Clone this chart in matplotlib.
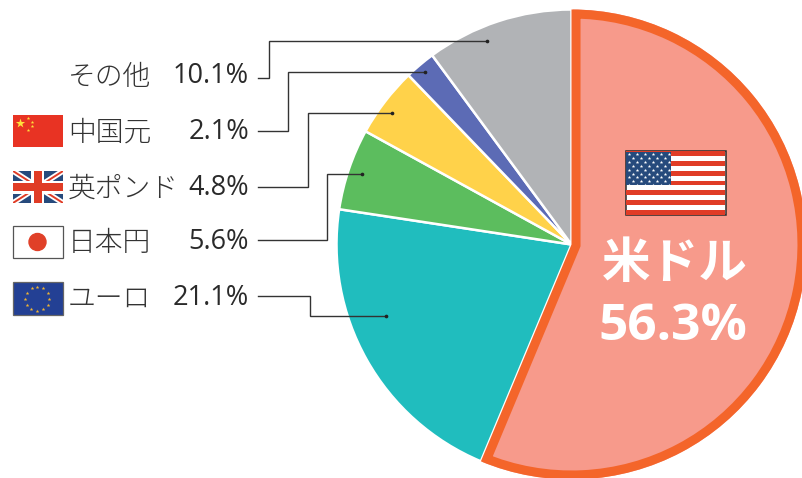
import matplotlib
matplotlib.use("Agg")
import matplotlib.pyplot as plt
from matplotlib.patches import Rectangle, Circle, Wedge
import numpy as np

W, H = 803, 478

# pie, clockwise from the top
slice_names = ["米ドル", "ユーロ", "日本円", "英ポンド", "中国元", "その他"]
slice_values = [56.3, 21.1, 5.6, 4.8, 2.1, 10.1]
slice_colors = ["#F79A8B", "#20BDBE", "#5CBD5E", "#FFD24A", "#5C6BB5", "#B1B3B6"]

# legend, top to bottom
legend_names = ["その他", "中国元", "英ポンド", "日本円", "ユーロ"]
legend_values = [10.1, 2.1, 4.8, 5.6, 21.1]
legend_y = [77, 133, 189, 243, 299]

# leader lines in picture pixels (same order as the legend)
leaders = [
    [(258, 78), (269, 78), (269, 41), (487, 41)],
    [(258, 131), (288, 131), (288, 72), (425, 72)],
    [(258, 187), (308, 187), (308, 113), (392, 113)],
    [(258, 240), (327, 240), (327, 174), (362, 174)],
    [(258, 296), (310, 296), (310, 316), (386, 316)],
]

JP = ["Noto Sans CJK JP", "DejaVu Sans"]
NUM = ["Open Sans", "DejaVu Sans"]
TEXT = "#333333"
RED = "#E03C26"
NAVY = "#264A7C"


def yy(py):
    return H - py


def rect(ax, x0, y0, x1, y1, color, z=5, **kw):
    ax.add_patch(Rectangle((x0, yy(y1)), x1 - x0, y1 - y0, facecolor=color, edgecolor="none", zorder=z, **kw))


def flag_cn(ax, x0, y0, x1, y1):
    rect(ax, x0, y0, x1, y1, "#E83323")
    ax.scatter([20.5], [yy(123)], marker="*", s=50, color="#FFE13C", linewidths=0, zorder=6)
    ax.scatter([28, 32, 32, 28], [yy(118), yy(122), yy(126), yy(130)], marker="*", s=7,
               color="#FFE13C", linewidths=0, zorder=6)


def flag_uk(ax, x0, y0, x1, y1, clip):
    rect(ax, x0, y0, x1, y1, NAVY)
    cx, cy = (x0 + x1) / 2, (y0 + y1) / 2
    for a, b in [((x0, y0), (x1, y1)), ((x0, y1), (x1, y0))]:
        ln, = ax.plot([a[0], b[0]], [yy(a[1]), yy(b[1])], color="white", lw=4, zorder=6, solid_capstyle="butt")
        ln.set_clip_path(clip)
        ln, = ax.plot([a[0], b[0]], [yy(a[1]), yy(b[1])], color=RED, lw=1.4, zorder=7, solid_capstyle="butt")
        ln.set_clip_path(clip)
    rect(ax, x0, cy - 6.5, x1, cy + 6.5, "white", z=8)
    rect(ax, cx - 6.5, y0, cx + 6.5, y1, "white", z=8)
    rect(ax, x0, cy - 4, x1, cy + 4, RED, z=9)
    rect(ax, cx - 4, y0, cx + 4, y1, RED, z=9)


def flag_jp(ax, x0, y0, x1, y1):
    ax.add_patch(Rectangle((x0, yy(y1)), x1 - x0, y1 - y0, facecolor="white", edgecolor="#555555", lw=0.9, zorder=5))
    ax.add_patch(Circle(((x0 + x1) / 2 - 0.5, yy((y0 + y1) / 2)), 8.5, color="#E04028", zorder=6))


def flag_eu(ax, x0, y0, x1, y1):
    ax.add_patch(Rectangle((x0, yy(y1)), x1 - x0, y1 - y0, facecolor="#234094", edgecolor="#666666", lw=0.9, zorder=5))
    cx, cy = (x0 + x1) / 2 - 0.5, (y0 + y1) / 2
    t = np.deg2rad(np.arange(0, 360, 30))
    ax.scatter(cx + 12 * np.cos(t), yy(cy) + 12 * np.sin(t), marker="*", s=8, color="#F2B632", linewidths=0, zorder=6)


def flag_us(ax, x0, y0, x1, y1):
    ax.add_patch(Rectangle((x0, yy(y1)), x1 - x0, y1 - y0, facecolor="white", edgecolor="#2A2A2A", lw=1.1, zorder=5))
    h = (y1 - y0) / 13
    for i in range(0, 13, 2):
        rect(ax, x0 + 0.5, y0 + i * h, x1 - 0.5, y0 + (i + 1) * h, RED, z=6)
    rect(ax, x0 + 0.5, y0 + 0.5, x0 + 45, y0 + 7 * h, NAVY, z=7)
    xs, ys = [], []
    for r in range(9):
        n = 6 if r % 2 == 0 else 5
        off = 3.5 if r % 2 == 0 else 7.5
        for c in range(n):
            xs.append(x0 + off + c * 8)
            ys.append(yy(y0 + 3 + r * 3.9))
    ax.scatter(xs, ys, marker="*", s=7, color="white", linewidths=0, zorder=8)


fig = plt.figure(figsize=(W / 100, H / 100), dpi=100)
ax = fig.add_axes([0, 0, 1, 1])

cx, cy, r = 571.5, 244.5, 235
wedges, _ = ax.pie(slice_values, colors=slice_colors, startangle=90, counterclock=False,
                   center=(cx, yy(cy)), radius=r, frame=False,
                   wedgeprops={"edgecolor": "white", "linewidth": 1.8})
ax.set_xlim(0, W)
ax.set_ylim(0, H)
ax.set_aspect("equal")
ax.axis("off")

# orange outline for the dollar slice, drawn double width and clipped to the inside
usd = wedges[0]
usd.set_linewidth(0)
outline = Wedge(usd.center, r, usd.theta1, usd.theta2, facecolor="none",
                edgecolor="#F4652A", linewidth=13, joinstyle="miter", zorder=4)
ax.add_patch(outline)
outline.set_clip_path(outline)

for pts in leaders:
    ax.plot([p[0] for p in pts], [yy(p[1]) for p in pts], color="#333333", lw=1.0, zorder=3,
            solid_joinstyle="miter")
    ax.scatter([pts[-1][0]], [yy(pts[-1][1])], s=7, color="#222222", linewidths=0, zorder=3)

for name, val, y in zip(legend_names, legend_values, legend_y):
    ax.text(68, yy(y), name, family=JP, weight="light", fontsize=20, color=TEXT, ha="left", va="center")
    ax.text(249, yy(y - 1), f"{val}%", family=NUM, fontsize=19.5, color="#2A2A2A", ha="right", va="center")

flag_cn(ax, 13, 115, 63, 147)
clip = Rectangle((13, yy(203)), 50, 32, transform=ax.transData)
flag_uk(ax, 13, 171, 63, 203, clip)
flag_jp(ax, 13, 226, 63, 258)
flag_eu(ax, 13, 282, 63, 315)
flag_us(ax, 626, 151, 726, 215)

ax.text(675, yy(263), slice_names[0], family=JP, weight="bold", fontsize=35, color="white", ha="center", va="center", zorder=10)
ax.text(673, yy(327), f"{slice_values[0]}%", family=NUM, weight="bold", fontsize=37, color="white", ha="center", va="center", zorder=10)

fig.savefig("out.png", dpi=100)
